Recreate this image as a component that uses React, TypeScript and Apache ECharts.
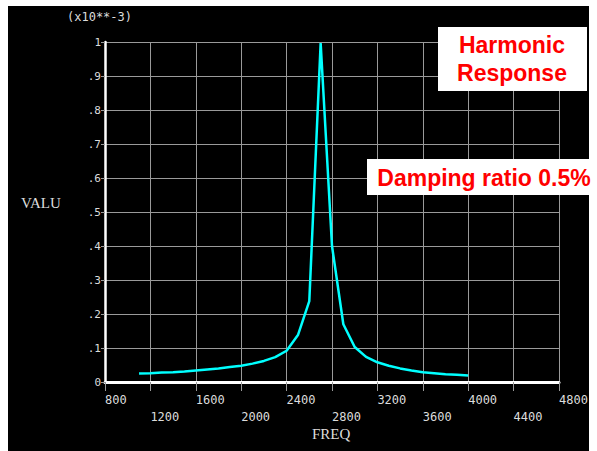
import React, { useEffect, useRef } from "react";
import * as echarts from "echarts";

const freqs: number[] = [
  1100, 1200, 1300, 1400, 1500, 1600, 1700, 1800, 1900, 2000,
  2100, 2200, 2300, 2400, 2500, 2600, 2700, 2800, 2900, 3000,
  3100, 3200, 3300, 3400, 3500, 3600, 3700, 3800, 3900, 4000,
];
const values: number[] = [
  0.025, 0.026, 0.028, 0.029, 0.031, 0.034, 0.037, 0.040, 0.044, 0.048,
  0.054, 0.062, 0.073, 0.092, 0.138, 0.238, 0.997, 0.40, 0.17, 0.103,
  0.074, 0.058, 0.048, 0.040, 0.034, 0.029, 0.026, 0.023, 0.021, 0.019,
];
const xTicks: number[] = [800, 1200, 1600, 2000, 2400, 2800, 3200, 3600, 4000, 4400, 4800];
const yTickLabels: string[] = ["0", ".1", ".2", ".3", ".4", ".5", ".6", ".7", ".8", ".9", "1"];
const yScaleNote = "(x10**-3)";
const yName = "VALU";
const xName = "FREQ";
const titleLines = ["Harmonic", "Response"];
const dampingNote = "Damping ratio 0.5%";

export default function App() {
  const ref = useRef<HTMLDivElement>(null);
  useEffect(() => {
    document.body.style.margin = "0";
    const chart = echarts.init(ref.current!, undefined, { renderer: "svg" });
    const mono = "DejaVu Sans Mono";
    chart.setOption({
      animation: false,
      backgroundColor: "#ffffff",
      grid: { left: 105, right: 38, top: 42, bottom: 69, containLabel: false },
      xAxis: {
        type: "value",
        min: xTicks[0],
        max: xTicks[xTicks.length - 1],
        interval: 400,
        axisLine: { show: true, lineStyle: { color: "#ffffff", width: 3 } },
        axisTick: { show: true, length: 9, lineStyle: { color: "#9a9a9a", width: 1 } },
        splitLine: { show: true, lineStyle: { color: "#9a9a9a", width: 1 } },
        axisLabel: {
          color: "#dcdcdc",
          fontFamily: mono,
          fontSize: 12,
          align: "left",
          verticalAlign: "top",
          lineHeight: 17,
          margin: 9,
          showMinLabel: true,
          showMaxLabel: true,
          formatter: (v: number) => {
            const idx = xTicks.indexOf(v);
            return idx % 2 === 1 ? "\n" + v : String(v);
          },
        },
      },
      yAxis: {
        type: "value",
        min: 0,
        max: 1,
        interval: 0.1,
        axisLine: { show: true, lineStyle: { color: "#ffffff", width: 2.5 } },
        axisTick: { show: true, length: 4, lineStyle: { color: "#9a9a9a", width: 1 } },
        splitLine: { show: true, lineStyle: { color: "#9a9a9a", width: 1 } },
        axisLabel: {
          color: "#dcdcdc",
          fontFamily: mono,
          fontSize: 11,
          margin: 4,
          padding: [0, 0, 3, 0],
          formatter: (v: number) => yTickLabels[Math.round(v * 10)],
        },
      },
      series: [
        {
          type: "line",
          data: freqs.map((f, i) => [f, values[i]]),
          showSymbol: false,
          symbol: "none",
          lineStyle: { color: "#00ffff", width: 2.5 },
          z: 5,
        },
      ],
      graphic: [
        { type: "rect", z: -10, silent: true, shape: { x: 8, y: 6, width: 581, height: 445 }, style: { fill: "#000000" } },
        { type: "text", left: 67, top: 11, style: { text: yScaleNote, fill: "#dcdcdc", font: `12px "${mono}"` } },
        { type: "text", left: 21, top: 195, style: { text: yName, fill: "#dcdcdc", font: `15px "Liberation Serif"` } },
        { type: "text", left: 312, top: 426, style: { text: xName, fill: "#dcdcdc", font: `15px "Liberation Serif"` } },
        { type: "rect", shape: { x: 438, y: 27, width: 149, height: 64 }, style: { fill: "#ffffff" }, z: 10 },
        {
          type: "text", z: 11, x: 512, y: 59,
          style: {
            text: titleLines.join("\n"), fill: "#ff0000", font: `bold 23px "Liberation Sans"`,
            align: "center", verticalAlign: "middle", lineHeight: 28,
          },
        },
        { type: "rect", shape: { x: 367, y: 159, width: 228, height: 36 }, style: { fill: "#ffffff" }, z: 10 },
        {
          type: "text", z: 11, x: 484, y: 178,
          style: {
            text: dampingNote, fill: "#ff0000", font: `bold 23px "Liberation Sans"`,
            align: "center", verticalAlign: "middle",
          },
        },
      ],
    });
    return () => chart.dispose();
  }, []);
  return <div ref={ref} style={{ position: "absolute", left: 0, top: 0, width: 597, height: 451 }} />;
}
